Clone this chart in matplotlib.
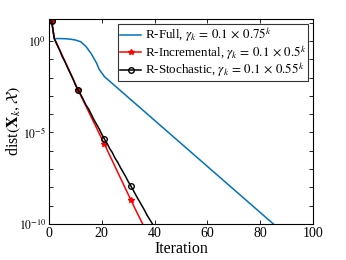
import matplotlib
matplotlib.use("Agg")
import matplotlib.pyplot as plt
from matplotlib.ticker import FixedLocator, FixedFormatter, NullFormatter
import numpy as np

plt.rcParams.update({
    "font.family": "serif", "font.serif": ["Liberation Serif", "DejaVu Serif"],
    "mathtext.fontset": "stix", "font.size": 10,
    "xtick.direction": "in", "ytick.direction": "in",
    "xtick.top": True, "ytick.right": True,
})

# R-Full: read at the kinks, straight on log axis after k=21
full_k = [1, 2, 4, 6, 8, 10, 12, 14, 16, 18, 19, 20, 21, 85, 86]
full_log = [1.1, 0.13, 0.13, 0.12, 0.1, 0.05, -0.04, -0.3, -0.7, -1.2,
            -1.55, -1.75, -1.95, -10.0, -10.13]

# R-Incremental, one value per iteration (log10)
inc_log = [1.1, 0.15, -0.15, -0.47, -0.78, -1.1, -1.4, -1.72, -2.03, -2.35,
           -2.68, -2.97, -3.27, -3.56, -3.86, -4.16, -4.45, -4.75, -5.05, -5.34,
           -5.64, -5.94, -6.25, -6.55, -6.86, -7.16, -7.47, -7.77, -8.08, -8.38,
           -8.69, -8.98, -9.28, -9.57, -9.86, -10.15]

# R-Stochastic, one value per iteration (log10)
sto_log = [1.1, 0.12, -0.2, -0.5, -0.85, -1.12, -1.45, -1.75, -2.05, -2.4,
           -2.68, -2.92, -3.2, -3.5, -3.72, -4.0, -4.3, -4.55, -4.8, -5.1,
           -5.36, -5.6, -5.88, -6.1, -6.4, -6.62, -6.9, -7.15, -7.4, -7.68,
           -7.92, -8.18, -8.45, -8.7, -8.95, -9.2, -9.48, -9.72, -9.95, -10.2]

fig = plt.figure(figsize=(3.46, 2.6), dpi=100)
ax = fig.add_axes([0.1416, 0.1385, 0.763, 0.7885])

ax.plot(full_k, 10.0 ** np.array(full_log), color="#0072BD", lw=1.1,
        label=r"R-Full, $\gamma_k\,=\,0.1\,\times\,0.75^k$")
ax.plot(np.arange(1, len(inc_log) + 1), 10.0 ** np.array(inc_log), color="#FF0000",
        lw=1.1, marker="*", ms=4, markevery=10,
        label=r"R-Incremental, $\gamma_k\,=\,0.1\,\times\,0.5^k$")
ax.plot(np.arange(1, len(sto_log) + 1), 10.0 ** np.array(sto_log), color="black",
        lw=1.1, marker="o", ms=4, mfc="none", mew=1.0, markevery=10,
        label=r"R-Stochastic, $\gamma_k\,=\,0.1\,\times\,0.55^k$")

ax.set_yscale("log")
ax.set_xlim(0, 100)
ax.set_ylim(1e-10, 10 ** 1.2)
ax.set_xticks([0, 20, 40, 60, 80, 100])
ax.yaxis.set_major_locator(FixedLocator([1e-10, 1e-5, 1e0]))
ax.yaxis.set_major_formatter(FixedFormatter([r"$10^{-10}$", r"$10^{-5}$", r"$10^{0}$"]))
ax.yaxis.set_minor_locator(FixedLocator([10.0 ** e for e in range(-10, 2)]))
ax.yaxis.set_minor_formatter(NullFormatter())
ax.tick_params(which="both", length=3, width=0.6, pad=2)
ax.tick_params(axis="y", labelsize=8.5)
for s in ax.spines.values():
    s.set_linewidth(0.8)

ax.set_xlabel("Iteration", fontsize=11.5, labelpad=1)
ax.set_ylabel(r"dist$(\mathbf{X}_k, \mathcal{X})$", fontsize=11.5)
ax.yaxis.set_label_coords(-0.1, 0.5)

leg = ax.legend(loc="upper right", fontsize=9.4, frameon=True, fancybox=False,
                edgecolor="black", handlelength=1.6, handletextpad=0.3,
                borderpad=0.15, labelspacing=-0.1, borderaxespad=0.35)
leg.get_frame().set_linewidth(0.8)

fig.savefig("out.png", dpi=100)
